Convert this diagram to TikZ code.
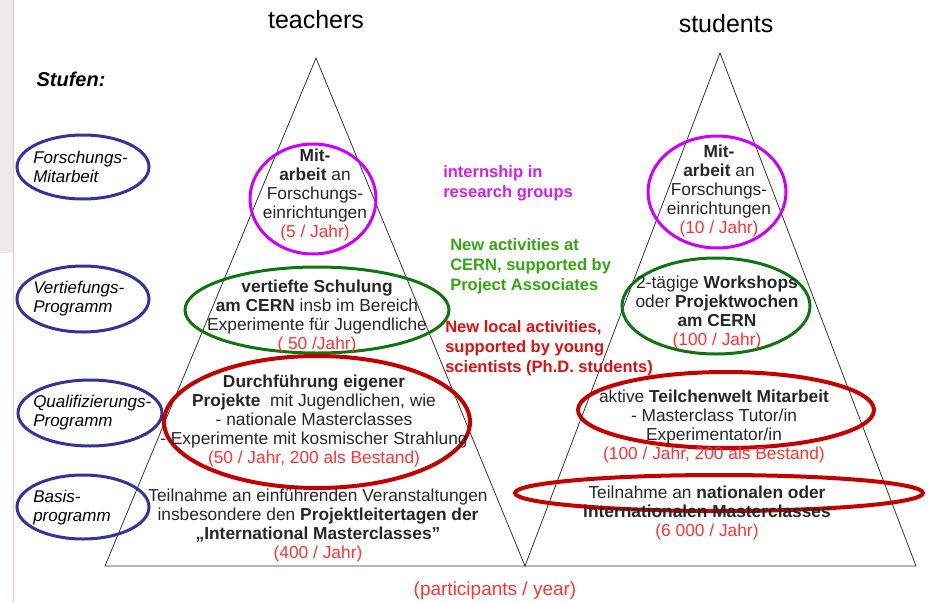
\documentclass[tikz,border=0pt]{standalone}
\usepackage{fontspec}
\setmainfont{Liberation Sans}

\definecolor{lvlblue}{HTML}{333399}
\definecolor{resviolet}{HTML}{CC00FF}
\definecolor{restext}{HTML}{CC22EE}
\definecolor{cerngreen}{HTML}{127312}
\definecolor{cerntext}{HTML}{33A611}
\definecolor{localred}{HTML}{C40000}
\definecolor{localtext}{HTML}{DD1111}
\definecolor{countred}{HTML}{FF3333}

\newcommand{\anzahl}[1]{\textcolor{countred}{#1}}

\begin{document}
\begin{tikzpicture}[x=0.75pt,y=-0.75pt,
  body/.style={align=center,text=black!85,inner sep=0pt,
    font=\fontsize{13}{14.25}\selectfont},
  stage/.style={align=left,anchor=west,inner sep=0pt,
    font=\fontsize{12.75}{14.25}\selectfont\itshape},
  note/.style={align=left,anchor=west,inner sep=0pt,
    font=\fontsize{12.4}{15}\selectfont\bfseries},
  ring/.style={line width=2.25pt},
  thickring/.style={line width=3pt},
  title/.style={font=\fontsize{18.75}{22}\selectfont}]
\useasboundingbox (0,0) rectangle (928,603);
\fill[black!8] (0,0) rectangle (13,253);
\draw[red!25,line width=0.5pt] (13,0) -- (13,603);

% pyramids
\coordinate (tbl) at (105,566);
\coordinate (ttop) at (316,58);
\coordinate (mid) at (525,566);
\coordinate (stop) at (720,53);
\coordinate (sbr) at (916,566);
\draw[line width=0.6pt,black!80] (tbl) -- (ttop) -- (mid) -- (stop) -- (sbr) -- cycle;

\node[title] (teachers) at (316,20) {teachers};
\node[title] (students) at (726,24) {students};
\node[inner sep=0pt,font=\fontsize{15}{18}\selectfont\bfseries\itshape] (stufen) at (71,79) {Stufen:};

% stages
\draw[ring,lvlblue] (83,167) ellipse [x radius=66,y radius=32];
\draw[ring,lvlblue] (83,299) ellipse [x radius=66,y radius=33];
\draw[ring,lvlblue] (90,413) ellipse [x radius=72,y radius=33];
\draw[ring,lvlblue] (83,507) ellipse [x radius=66,y radius=32];
\node[stage] (forsch) at (33,166.5) {Forschungs-\\Mitarbeit};
\node[stage] (vertief) at (33,299) {Vertiefungs-\\Programm};
\node[stage] (quali) at (33,413) {Qualifizierungs-\\Programm};
\node[stage] (basis) at (33,507.5) {Basis-\\programm};

% teachers
\draw[ring,resviolet] (313,199) ellipse [x radius=63,y radius=55];
\draw[ring,cerngreen] (317,310) ellipse [x radius=132,y radius=43];
\draw[thickring,localred] (317,422) ellipse [x radius=153,y radius=66];
\node[body] (tmit) at (315,195) {\textbf{Mit-}\\\textbf{arbeit} an\\Forschungs-\\einrichtungen\\\anzahl{(5 / Jahr)}};
\node[body] (tvert) at (317,317) {\textbf{vertiefte Schulung}\\\textbf{am CERN} insb im Bereich\\Experimente für Jugendliche\\\anzahl{( 50 /Jahr)}};
\node[body] (tquali) at (314,421.5) {\textbf{Durchführung eigener}\\\textbf{Projekte}\ \ mit Jugendlichen, wie\\- nationale Masterclasses\\- Experimente mit kosmischer Strahlung\\\anzahl{(50 / Jahr, 200 als Bestand)}};
\node[body] (tbasis) at (318,526) {Teilnahme an einführenden Veranstaltungen\\insbesondere den \textbf{Projektleitertagen der}\\\textbf{„International Masterclasses”}\\\anzahl{(400 / Jahr)}};

% students
\draw[ring,resviolet] (717,192) ellipse [x radius=69,y radius=56];
\draw[ring,cerngreen] (716,306) ellipse [x radius=94,y radius=48];
\draw[thickring,localred] (726,410) ellipse [x radius=148,y radius=38];
\draw[thickring,localred] (719,493) ellipse [x radius=204,y radius=18];
\node[body] (smit) at (719,191) {\textbf{Mit-}\\\textbf{arbeit} an\\Forschungs-\\einrichtungen\\\anzahl{(10 / Jahr)}};
\node[body] (svert) at (717,313) {2-tägige \textbf{Workshops}\\oder \textbf{Projektwochen}\\\textbf{am CERN}\\\anzahl{(100 / Jahr)}};
\node[body] (squali) at (714,426.5) {aktive \textbf{Teilchenwelt Mitarbeit}\\- Masterclass Tutor/in\\Experimentator/in\\\anzahl{(100 / Jahr, 200 als Bestand)}};
\node[body] (sbasis) at (707,513) {Teilnahme an \textbf{nationalen oder}\\\textbf{internationalen Masterclasses}\\\anzahl{(6 000 / Jahr)}};

% new activities
\node[note,text=restext] (intern) at (443,183) {internship in\\research groups};
\node[note,text=cerntext] (newcern) at (450,266) {New activities at\\CERN, supported by\\Project Associates};
\node[note,text=localtext] (newlocal) at (445,348) {New local activities,\\supported by young\\scientists (Ph.D. students)};

\node[text=countred,inner sep=0pt,font=\fontsize{14.25}{16}\selectfont] (peryear) at (495,591) {(participants / year)};
\end{tikzpicture}
\end{document}
